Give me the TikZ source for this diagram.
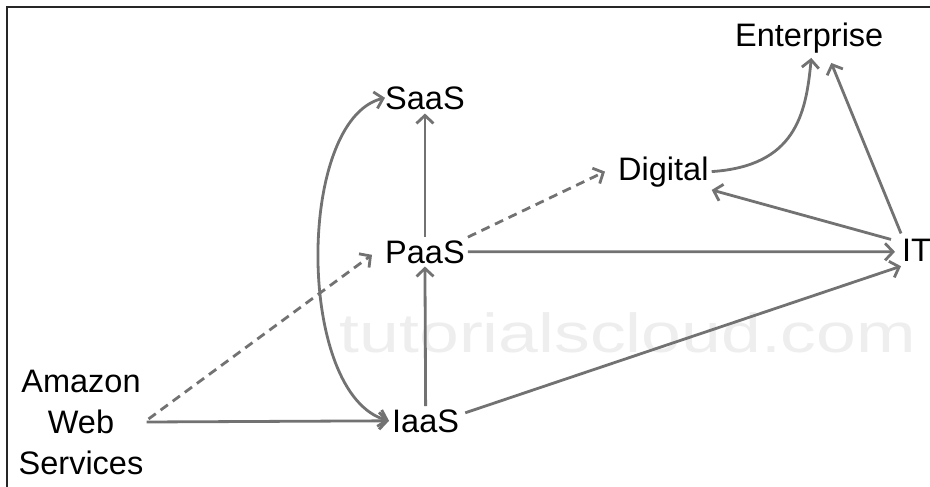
\documentclass[tikz,border=0pt]{standalone}
\usepackage{fontspec}
\setmainfont{Liberation Sans}
\usetikzlibrary{arrows.meta,calc}
\definecolor{edgegray}{HTML}{727272}
\definecolor{wmgray}{HTML}{EEEEEE}
\begin{document}
\begin{tikzpicture}[x=1pt,y=-1pt,
  lbl/.style={inner sep=3pt,anchor=base west,font=\fontsize{32.5}{41}\selectfont},
  conn/.style={draw=edgegray,line width=2.8pt,-{Straight Barb[length=8pt,width=17pt]}},
  dconn/.style={conn,dash pattern=on 9pt off 6pt},
  frame/.style={draw=black!85,line width=2pt}]
\useasboundingbox (0,0) rectangle (930,487);
\node[anchor=base,inner sep=0,text=wmgray,font=\fontsize{55}{60}\selectfont] (wm) at (628,352) {\scalebox{1.3}[1]{tutorialscloud.com}};
\draw[frame] (7,490) -- (7,7) -- (933,7);
\node[lbl] (ent) at (732,47) {Enterprise};
\node[lbl] (saas) at (382,110) {SaaS};
\node[lbl] (dig) at (615,180) {Digital};
\node[lbl] (paas) at (382,263) {PaaS};
\node[lbl] (it) at (899,261) {IT};
\node[lbl] (iaas) at (389,432) {IaaS};
\node[lbl,anchor=center,align=center] (aws) at (81,422) {Amazon\\Web\\Services};
\draw[conn] (aws.east) -- (iaas.west);
\draw[dconn] ($(aws.east)+(2,-3)$) -- ($(paas.west)+(-10,3)$);
\draw[conn] (iaas.north) -- (paas.south);
\draw[conn] (paas.north) -- (saas.south);
\draw[conn,{Straight Barb[length=8pt,width=17pt]}-{Straight Barb[length=8pt,width=17pt]}] (iaas.west) .. controls (296,395) and (296,120) .. ($(saas.west)+(3,-1)$);
\draw[conn] (paas.east) -- ($(it.west)+(-4,2)$);
\draw[conn] ($(iaas.east)+(3,-8)$) -- ($(it.south west)+(2,2)$);
\draw[dconn] (paas.north east) -- ($(dig.west)+(-10,0)$);
\draw[conn] ($(it.north west)+(-8,4)$) -- (dig.south east);
\draw[conn] (dig.east) .. controls (795,166) and (806,115) .. ($(ent.south)+(2,1)$);
\draw[conn] ($(it.north west)+(2,-2)$) -- ($(ent.south)+(22,6)$);
\end{tikzpicture}
\end{document}
